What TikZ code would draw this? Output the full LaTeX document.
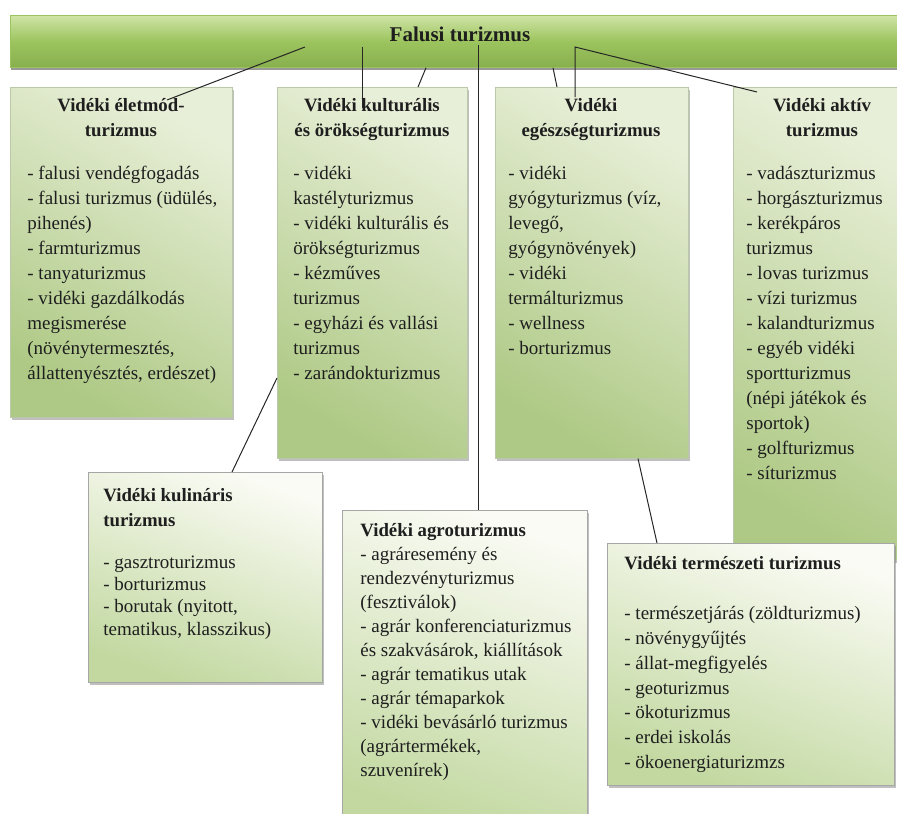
\documentclass[tikz,border=0pt]{standalone}
\usepackage{fontspec}
\setmainfont{Liberation Serif}
\usetikzlibrary{calc,shadows}
\definecolor{barlight}{HTML}{CFE4A6}
\definecolor{bargreen}{HTML}{9CC45E}
\definecolor{bardark}{HTML}{88AF4E}
\definecolor{panellight}{HTML}{E8EFD8}
\definecolor{panelgreen}{HTML}{AEC985}
\definecolor{notelight}{HTML}{FAFBF4}
\definecolor{notegreen}{HTML}{C2D8A0}
\definecolor{paneledge}{HTML}{BCC8AA}
\definecolor{ink}{HTML}{1E1E1E}
\tikzset{
  panel/.style={draw=paneledge, line width=0.3pt, inner sep=0pt, anchor=north west,
    top color=panellight, bottom color=panelgreen, shading angle=-30,
    drop shadow={shadow xshift=1pt, shadow yshift=-1.2pt, opacity=0.5}},
  note/.style={panel, draw=black!35, top color=notelight, bottom color=notegreen,
    shading angle=-20},
  head/.style={font=\bfseries\fontsize{9.4}{12.5}\selectfont, align=center,
    inner sep=0pt, anchor=north, text=ink},
  items/.style={font=\fontsize{9.5}{#1}\selectfont, align=left,
    inner sep=0pt, anchor=north west, text=ink},
  items/.default=12.5pt,
  link/.style={draw=black!85, line width=0.5pt},
}
\begin{document}
\begin{tikzpicture}[x=0.5pt,y=-0.5pt]
  \useasboundingbox (0,0) rectangle (897,813);
  % main bar
  \path (10,15) node[anchor=north west, inner sep=0pt, minimum width=450pt,
    minimum height=26pt, draw=bargreen, top color=barlight, bottom color=bardark,
    middle color=bargreen,
    drop shadow={shadow xshift=0.3pt, shadow yshift=-1.3pt, opacity=0.8}] (bar) {};
  \path (460,41.5) node[anchor=base, inner sep=0pt, text=ink,
    font=\bfseries\fontsize{10.5}{12.5}\selectfont] (title) {Falusi turizmus};
  % upper row
  \path (10,87) node[panel, minimum width=111pt, minimum height=165pt] (lifestyle) {};
  \path (121,94) node[head] (lifestyle-head) {\strut Vidéki életmód-\\turizmus};
  \path (27,162) node[items] (lifestyle-items) {\strut - falusi vendégfogadás\\
    - falusi turizmus (üdülés,\\pihenés)\\- farmturizmus\\- tanyaturizmus\\
    - vidéki gazdálkodás\\megismerése\\(növénytermesztés,\\
    állattenyésztés, erdészet)};
  \path (277,87) node[panel, minimum width=95pt, minimum height=185.5pt] (culture) {};
  \path (372,94) node[head] (culture-head) {\strut Vidéki kulturális\\és örökségturizmus};
  \path (293,162) node[items] (culture-items) {\strut - vidéki\\kastélyturizmus\\
    - vidéki kulturális és\\örökségturizmus\\- kézműves\\turizmus\\
    - egyházi és vallási\\turizmus\\- zarándokturizmus};
  \path (495,87) node[panel, minimum width=96.5pt, minimum height=185.5pt] (health) {};
  \path (591,94) node[head] (health-head) {\strut Vidéki\\egészségturizmus};
  \path (508,162) node[items] (health-items) {\strut - vidéki\\gyógyturizmus (víz,\\
    levegő,\\gyógynövények)\\- vidéki\\termálturizmus\\- wellness\\- borturizmus};
  \path (733,87) node[panel, minimum width=89pt, minimum height=236.5pt] (active) {};
  \path (822,94) node[head] (active-head) {\strut Vidéki aktív\\turizmus};
  \path (746,162) node[items] (active-items) {\strut - vadászturizmus\\
    - horgászturizmus\\- kerékpáros\\turizmus\\- lovas turizmus\\- vízi turizmus\\
    - kalandturizmus\\- egyéb vidéki\\sportturizmus\\(népi játékok és\\sportok)\\
    - golfturizmus\\- síturizmus};
  % lower row
  \path (88,472) node[note, minimum width=117pt, minimum height=105pt] (culinary) {};
  \path (103,484) node[head, anchor=north west, align=left] (culinary-head)
    {\strut Vidéki kulináris\\turizmus};
  \path (103,552) node[items=11.2pt] (culinary-items) {\strut - gasztroturizmus\\
    - borturizmus\\- borutak (nyitott,\\tematikus, klasszikus)};
  \path (342,510) node[note, minimum width=122.5pt, minimum height=160pt] (agro) {};
  \path (360,536.5) node[head, anchor=base west] (agro-head) {Vidéki agroturizmus};
  \path (360,543) node[items=12pt] (agro-items) {\strut - agráresemény és\\
    rendezvényturizmus\\(fesztiválok)\\- agrár konferenciaturizmus\\
    és szakvásárok, kiállítások\\- agrár tematikus utak\\- agrár témaparkok\\
    - vidéki bevásárló turizmus\\(agrártermékek,\\szuvenírek)};
  \path (607,543) node[note, minimum width=143.5pt, minimum height=121pt] (nature) {};
  \path (624,569.5) node[head, anchor=base west] (nature-head) {Vidéki természeti turizmus};
  \path (624,602) node[items=12.4pt] (nature-items) {\strut - természetjárás (zöldturizmus)\\
    - növénygyűjtés\\- állat-megfigyelés\\- geoturizmus\\- ökoturizmus\\
    - erdei iskolás\\- ökoenergiaturizmzs};
  % connectors
  \draw[link] ($(bar.north west)+(295,32)$) -- ($(lifestyle.north west)+(157,13)$);
  \draw[link] ($(bar.north west)+(352,32)$) -- ($(culture.north west)+(85,21)$);
  \draw[link] ($(bar.south west)+(416,0)$) -- ($(culture.north west)+(141,0)$);
  \draw[link] ($(bar.north west)+(468,30)$) -- (agro.north -| 478,0);
  \draw[link] ($(bar.south west)+(543,0)$) -- ($(health.north west)+(62,0)$);
  \draw[link] ($(health.north west)+(80,10)$) -- ($(bar.north west)+(565,32)$)
    -- ($(active.north west)+(24,5)$);
  \draw[link] ($(culinary.north west)+(144,0)$) -- ($(culture.north west)+(0,291)$);
  \draw[link] ($(health.south west)+(143,0)$) -- ($(nature.north west)+(50,0)$);
\end{tikzpicture}
\end{document}
